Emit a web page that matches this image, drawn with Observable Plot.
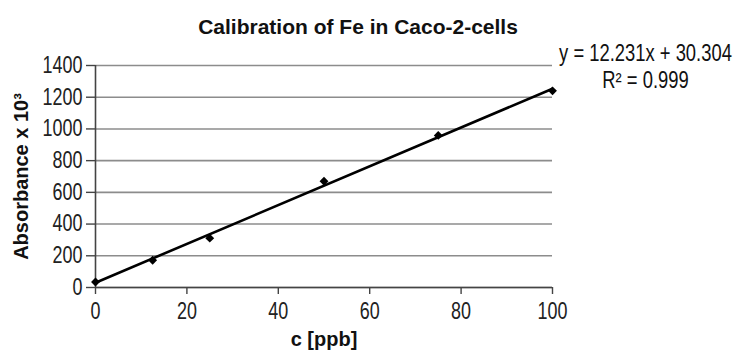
<!DOCTYPE html>
<html>
<head>
<meta charset="utf-8">
<script src="https://cdn.jsdelivr.net/npm/d3@7"></script>
<script src="https://cdn.jsdelivr.net/npm/@observablehq/plot@0.6"></script>
<style>
  html, body { margin: 0; padding: 0; background: #fff; }
</style>
</head>
<body>
<div id="chart"></div>
<script>
const concentration = [0, 12.5, 25, 50, 75, 100];
const absorbance = [35, 172, 311, 670, 959, 1240];
const xTicks = [0, 20, 40, 60, 80, 100];
const yTicks = [0, 200, 400, 600, 800, 1000, 1200, 1400];
const slope = 12.231;
const intercept = 30.304;
const titleText = "Calibration of Fe in Caco-2-cells";
const xLabel = "c [ppb]";
const yLabel = "Absorbance x 10³";
const equationText = "y = 12.231x + 30.304";
const r2Text = "R² = 0.999";

const points = concentration.map((c, i) => ({c, a: absorbance[i]}));
const fitLine = [0, 100].map(c => ({c, a: slope * c + intercept}));

const font = "'Liberation Sans', Arial, Helvetica, sans-serif";

const chart = Plot.plot({
  width: 739,
  height: 350,
  marginLeft: 95,
  marginRight: 187,
  marginTop: 65,
  marginBottom: 63,
  style: {fontFamily: font, fontSize: "23px", color: "#222", background: "#fff"},
  x: {domain: [0, 100], label: null},
  y: {domain: [0, 1400], label: null},
  marks: [
    Plot.gridY(yTicks, {stroke: "#8c8c8c", strokeOpacity: 1, strokeWidth: 1.6}),
    Plot.axisY(yTicks, {tickSize: 9, tickPadding: 4, tickFormat: "d", stroke: "#444", strokeWidth: 1.4, fontSize: 23, label: null}),
    Plot.axisX(xTicks, {tickSize: 7, tickPadding: 8, tickFormat: "d", stroke: "#444", strokeWidth: 1.4, fontSize: 23, label: null}),
    Plot.ruleX([0], {stroke: "#444", strokeWidth: 1.6}),
    Plot.ruleY([0], {stroke: "#444", strokeWidth: 1.6}),
    Plot.line(fitLine, {x: "c", y: "a", stroke: "#000", strokeWidth: 2.6}),
    Plot.dot(points, {x: "c", y: "a", symbol: "diamond2", r: 4, fill: "#000", stroke: "none"}),
    Plot.text([titleText], {frameAnchor: "top", dx: 34, dy: -32, lineAnchor: "bottom", fontSize: 21, fontWeight: "bold", fill: "#111"}),
    Plot.text([yLabel], {frameAnchor: "left", dx: -74, rotate: -90, lineAnchor: "middle", textAnchor: "middle", fontSize: 20, fontWeight: "bold", fill: "#111"}),
    Plot.text([xLabel], {frameAnchor: "bottom", dy: 58, lineAnchor: "bottom", fontSize: 20, fontWeight: "bold", fill: "#111"}),
    Plot.text([equationText], {frameAnchor: "top-right", dx: 93, dy: -5, textAnchor: "middle", lineAnchor: "bottom", fontSize: 23, fill: "#111"}),
    Plot.text([r2Text], {frameAnchor: "top-right", dx: 93, dy: 22, textAnchor: "middle", lineAnchor: "bottom", fontSize: 23, fill: "#111"})
  ]
});

// The reference uses a condensed face for numbers: squeeze those texts horizontally.
function condense(nodes, k) {
  nodes.forEach(node => {
    const t = node.getAttribute("transform") || "";
    node.setAttribute("transform", (t + ` scale(${k},1)`).trim());
  });
}
const svg = chart;
condense(svg.querySelectorAll('g[aria-label="y-axis tick label"] text'), 0.78);
condense(svg.querySelectorAll('g[aria-label="x-axis tick label"] text'), 0.78);
condense(Array.from(svg.querySelectorAll('text')).filter(t => t.textContent === equationText || t.textContent === r2Text), 0.8);

document.getElementById("chart").appendChild(chart);
</script>
</body>
</html>
